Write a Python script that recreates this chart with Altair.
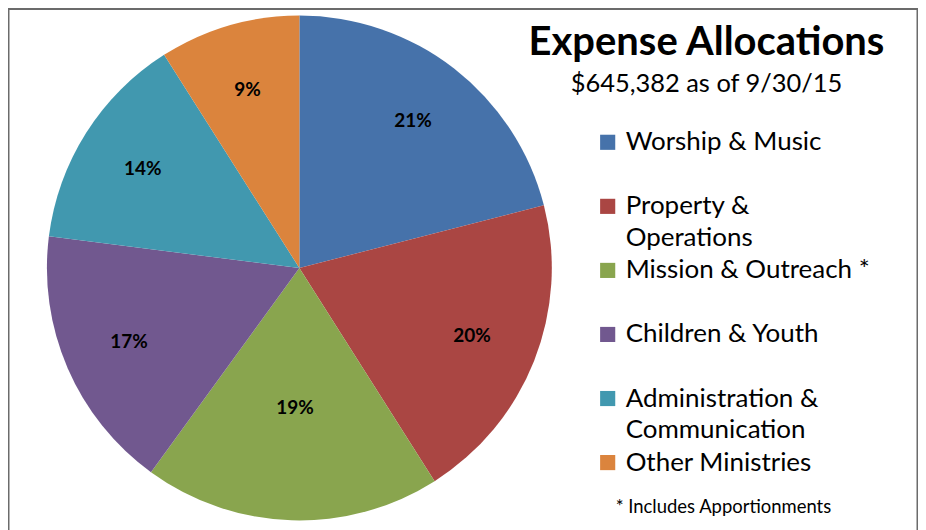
import altair as alt
import pandas as pd

categories = ["Worship & Music", "Property & Operations", "Mission & Outreach *",
              "Children & Youth", "Administration & Communication", "Other Ministries"]
legend_labels = ["Worship & Music", "Property &\nOperations", "Mission & Outreach *",
                 "Children & Youth", "Administration &\nCommunication", "Other Ministries"]
shares = [21, 20, 19, 17, 14, 9]
colors = ["#4672AA", "#AA4643", "#89A54E", "#71588F", "#4198AF", "#DB843D"]
title_text = ["Expense Allocations"]
subtitle_text = ["$645,382 as of 9/30/15"]
footnote_text = ["* Includes Apportionments"]

FONT = "Lato"
CX, CY = 292, 260

df = pd.DataFrame({"category": categories, "label": legend_labels,
                   "share": shares, "order": list(range(len(categories)))})

theta = alt.Theta("share:Q", stack=True)
order = alt.Order("order:Q")

pie = alt.Chart(df).mark_arc(outerRadius=253, x=CX, y=CY).encode(
    theta=theta, order=order,
    color=alt.Color("category:N", scale=alt.Scale(domain=categories, range=colors), legend=None),
)

lab_base = alt.Chart(df).transform_calculate(
    outer="datum.category == 'Mission & Outreach *' ? '' : datum.share + '%'",
    inner="datum.category == 'Mission & Outreach *' ? datum.share + '%' : ''",
)
labels_outer = lab_base.mark_text(radius=186, x=CX, y=CY, font=FONT, fontSize=19,
                                  fontWeight="bold", color="black").encode(
    theta=theta, order=order, text="outer:N")
labels_inner = lab_base.mark_text(radius=140, x=CX, y=CY, font=FONT, fontSize=19,
                                  fontWeight="bold", color="black").encode(
    theta=theta, order=order, text="inner:N")

leg_y = alt.Y("category:N", sort=categories, axis=None,
              scale=alt.Scale(type="point", range=[134, 455], padding=0))
leg_sq = alt.Chart(df).mark_square(size=230, x=601, opacity=1).encode(
    y=leg_y,
    color=alt.Color("category:N", scale=alt.Scale(domain=categories, range=colors), legend=None),
)
leg_txt = alt.Chart(df).mark_text(x=619, align="left", baseline="middle", font=FONT,
                                  fontSize=26, lineBreak="\n", lineHeight=32,
                                  color="black").encode(y=leg_y, text="label:N")

title = alt.Chart(pd.DataFrame({"t": title_text})).mark_text(
    x=700, y=47, align="center", baseline="alphabetic", font=FONT, fontSize=40,
    fontWeight="bold", color="black").encode(text="t:N")
subtitle = alt.Chart(pd.DataFrame({"t": subtitle_text})).mark_text(
    x=700, y=84, align="center", baseline="alphabetic", font=FONT, fontSize=25.5,
    color="black").encode(text="t:N")
footnote = alt.Chart(pd.DataFrame({"t": footnote_text})).mark_text(
    x=717, y=506, align="center", baseline="alphabetic", font=FONT, fontSize=18.5,
    color="black").encode(text="t:N")

chart = alt.layer(pie, labels_outer, labels_inner, leg_sq, leg_txt, title, subtitle, footnote).properties(
    width=912, height=530, autosize=alt.AutoSizeParams(type="none"), padding=0
).configure_view(stroke="#6B6B6B", strokeWidth=3)

chart.save("out.html", embed_options={"renderer": "svg", "actions": False})
